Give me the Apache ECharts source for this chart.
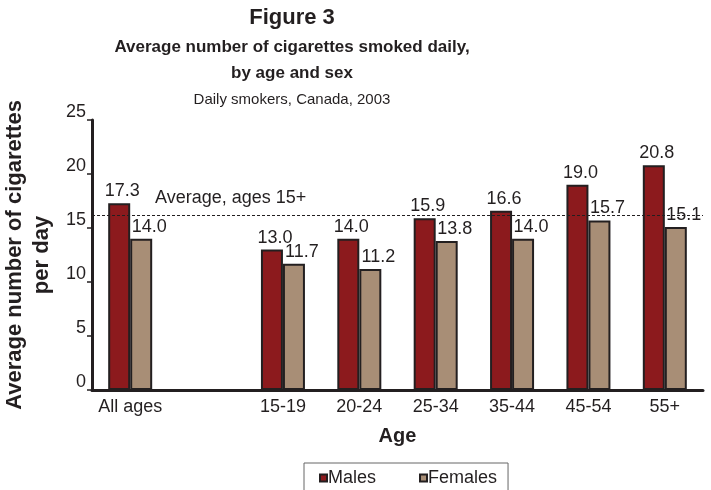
<!DOCTYPE html>
<html><head><meta charset="utf-8">
<script src="https://cdn.jsdelivr.net/npm/echarts@6/dist/echarts.min.js"></script>
<style>html,body{margin:0;padding:0;background:#fff}#c{width:711px;height:490px}</style>
</head><body><div id="c"></div>
<script>
const categories = ['All ages', '', '15-19', '20-24', '25-34', '35-44', '45-54', '55+'];
const males = [17.3, '-', 13.0, 14.0, 15.9, 16.6, 19.0, 20.8];
const females = [14.0, '-', 11.7, 11.2, 13.8, 14.0, 15.7, 15.1];
const averageAll = 16.2;
const yTicks = { min: 0, max: 25, interval: 5 };

const F = '"Liberation Sans", Arial, Helvetica, sans-serif';
const chart = echarts.init(document.getElementById('c'));
const titleCommon = { left: 292, textAlign: 'center', textVerticalAlign: 'middle', padding: 0 };
chart.setOption({
  animation: false,
  title: [
    Object.assign({ text: 'Figure 3', top: 18, textStyle: { fontFamily: F, fontSize: 22, fontWeight: 'bold', color: '#231f20' } }, titleCommon),
    Object.assign({ text: 'Average number of cigarettes smoked daily,', top: 47, textStyle: { fontFamily: F, fontSize: 17, fontWeight: 'bold', color: '#231f20' } }, titleCommon),
    Object.assign({ text: 'by age and sex', top: 73, textStyle: { fontFamily: F, fontSize: 17, fontWeight: 'bold', color: '#231f20' } }, titleCommon),
    Object.assign({ text: 'Daily smokers, Canada, 2003', top: 100, textStyle: { fontFamily: F, fontSize: 15, fontWeight: 'normal', color: '#231f20' } }, titleCommon)
  ],
  legend: {
    left: 304, top: 463,
    padding: [6, 11, 30, 15],
    borderColor: '#666', borderWidth: 1,
    itemWidth: 7, itemHeight: 7, itemGap: 43,
    icon: 'rect',
    textStyle: { fontFamily: F, fontSize: 18, color: '#231f20', padding: [0, 0, 0, -4] },
    data: ['Males', 'Females']
  },
  grid: { left: 92, right: 8, top: 120, bottom: 100, outerBoundsMode: 'none' },
  xAxis: {
    type: 'category', data: categories,
    name: 'Age', nameLocation: 'middle', nameGap: 36,
    nameTextStyle: { fontFamily: F, fontSize: 20, fontWeight: 'bold', color: '#231f20' },
    axisLine: { lineStyle: { color: '#231f20', width: 3 } },
    axisTick: { show: false },
    axisLabel: { fontFamily: F, fontSize: 18, color: '#231f20', margin: 8, interval: 0 }
  },
  yAxis: {
    type: 'value', min: yTicks.min, max: yTicks.max, interval: yTicks.interval,
    name: 'Average number of cigarettes\nper day', nameLocation: 'middle', nameGap: 30,
    nameTextStyle: { fontFamily: F, fontSize: 22, fontWeight: 'bold', color: '#231f20', lineHeight: 27 },
    axisLine: { show: true, lineStyle: { color: '#231f20', width: 3 } },
    axisTick: { show: true, inside: false, length: 5, lineStyle: { color: '#231f20', width: 1.5 } },
    axisLabel: { fontFamily: F, fontSize: 18, color: '#231f20', margin: 6, verticalAlign: 'bottom', lineHeight: 15 },
    splitLine: { show: false }
  },
  series: [
    {
      name: 'Males', type: 'bar', data: males, barWidth: 22, barGap: '0%',
      itemStyle: { color: '#8c1a1d', borderColor: '#231f20', borderWidth: 2 },
      label: { show: true, position: 'top', distance: 3, offset: [3, 0], fontFamily: F, fontSize: 18, color: '#231f20', formatter: p => p.value.toFixed(1) },
      markLine: {
        silent: true, symbol: 'none', z: 10,
        lineStyle: { type: [3, 2], color: '#231f20', width: 1 },
        label: {
          show: true, position: 'insideStartTop', distance: [63, 8],
          formatter: 'Average, ages 15+', fontFamily: F, fontSize: 18, color: '#231f20'
        },
        data: [{ yAxis: averageAll }]
      }
    },
    {
      name: 'Females', type: 'bar', data: females, barWidth: 22,
      itemStyle: { color: '#a88e76', borderColor: '#231f20', borderWidth: 2 },
      label: { show: true, position: 'top', distance: 3, offset: [8, 0], fontFamily: F, fontSize: 18, color: '#231f20', formatter: p => p.value.toFixed(1) }
    }
  ]
});
</script></body></html>
